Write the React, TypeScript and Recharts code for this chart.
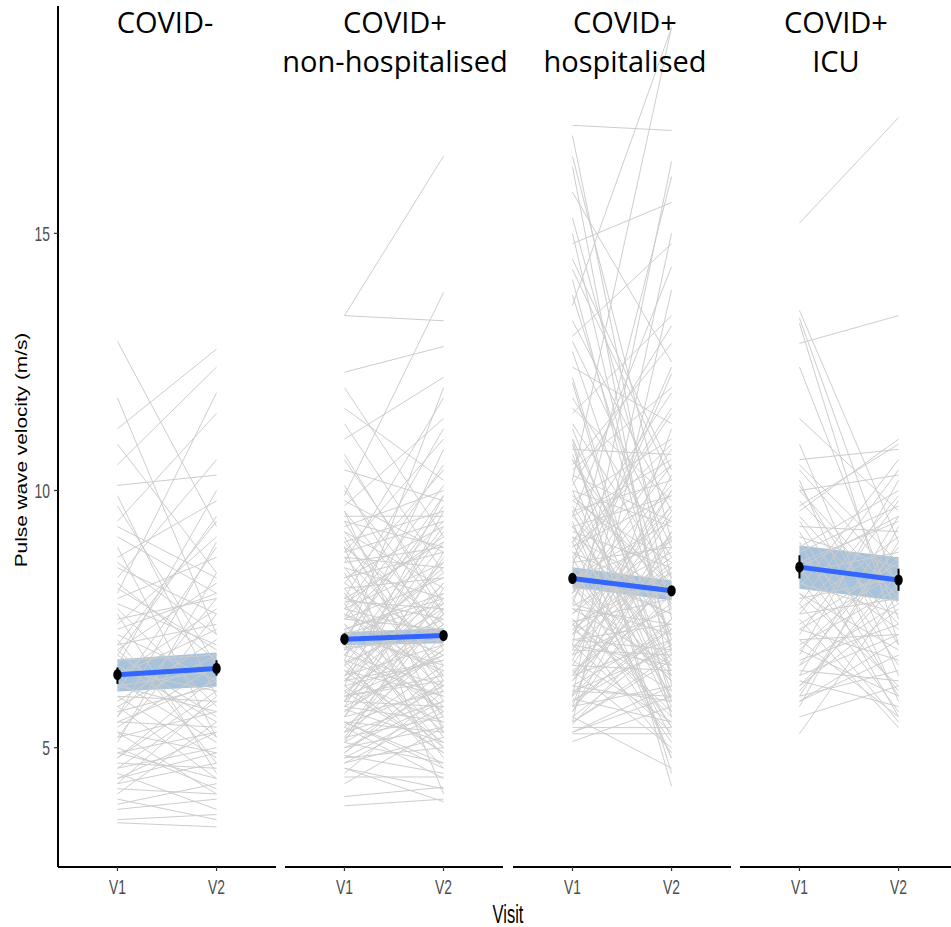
import { ComposedChart, Line, Area, Scatter, ErrorBar, XAxis, YAxis } from "recharts";

// per-subject pulse wave velocity (m/s) at visit 1 and visit 2
const negV1 = [12.9, 11.8, 11.2, 10.9, 10.5, 10.1, 9.7, 9.4, 9.1, 8.9, 8.7, 8.5, 8.3, 8.1, 7.9, 7.7, 7.5, 7.4, 7.2, 7.1, 7.0, 6.9, 6.8, 6.7, 6.6, 6.5, 6.4, 6.3, 6.2, 6.1, 6.0, 5.9, 5.8, 5.7, 5.6, 5.5, 5.4, 5.3, 5.2, 5.1, 5.0, 4.9, 4.8, 4.7, 4.6, 4.5, 4.4, 4.3, 4.2, 4.1, 4.0, 3.9, 3.8, 3.6, 3.54, 8.0, 6.8, 5.6, 9.9, 7.6,
  8.2, 7.3, 6.9, 6.4, 6.0, 5.5, 5.2, 4.9, 4.6, 4.3, 7.8, 7.0, 6.6, 5.8, 5.3, 4.8, 4.4, 9.3, 8.6, 6.2];
const negV2 = [9.3, 7.2, 12.75, 8.4, 12.4, 10.3, 6.6, 11.5, 8.0, 5.2, 9.8, 7.6, 10.6, 6.9, 8.7, 5.8, 7.9, 9.1, 6.3, 4.7, 7.4, 8.2, 5.6, 6.8, 10.0, 6.1, 7.7, 5.1, 6.5, 8.9, 5.9, 7.1, 4.4, 6.2, 7.9, 5.4, 6.6, 4.9, 5.7, 8.4, 4.2, 5.3, 6.4, 4.6, 5.0, 3.8, 4.9, 6.0, 4.1, 5.5, 3.6, 4.3, 4.0, 3.7, 3.46, 11.9, 9.5, 9.0, 6.0, 4.5,
  6.7, 8.0, 5.2, 7.3, 4.8, 6.3, 7.6, 4.4, 5.9, 4.7, 7.0, 9.4, 5.5, 6.8, 4.1, 6.1, 5.3, 8.3, 7.2, 5.7];

const nonHospV1 = [13.4, 13.4, 12.3, 12.0, 11.6, 11.3, 11.0, 10.7, 10.4, 10.1, 9.9, 9.8, 9.7, 9.6, 9.5, 9.4, 9.3, 9.2, 9.1, 9.0, 8.9, 8.8, 8.7, 8.6, 8.5, 8.4, 8.3, 8.2, 8.1, 8.0, 7.9, 7.85, 7.8, 7.7, 7.6, 7.55, 7.5, 7.4, 7.3, 7.25, 7.2, 7.1, 7.0, 6.95, 6.9, 6.8, 6.7, 6.65, 6.6, 6.5, 6.4, 6.35, 6.3, 6.2, 6.1, 6.05, 6.0, 5.9, 5.8, 5.75, 5.7, 5.6, 5.5, 5.45, 5.4, 5.3, 5.2, 5.15, 5.1, 5.0, 4.9, 4.85, 4.8, 4.7, 4.6, 4.5, 4.43, 4.3, 4.05, 3.87, 8.6, 7.7, 6.9, 6.2, 5.6, 9.0, 7.3, 6.7, 5.9, 8.0, 7.0, 6.4, 5.3, 10.6, 8.9, 7.5, 6.0, 5.1, 9.6, 4.6,
  9.2, 8.8, 8.5, 8.3, 8.1, 7.9, 7.8, 7.6, 7.5, 7.4, 7.3, 7.2, 7.1, 7.0, 6.9, 6.8, 6.7, 6.6, 6.5, 6.4, 6.3, 6.2, 6.1, 6.0, 5.9, 5.8, 5.7, 5.6, 5.5, 5.4, 5.3, 5.2, 5.0, 4.9, 4.7, 8.7, 8.2, 7.7, 7.2, 6.8, 6.3, 5.8, 5.5, 5.1, 9.4, 10.0, 6.6, 7.9, 4.8, 5.9];
const nonHospV2 = [16.5, 13.3, 12.8, 9.1, 10.2, 8.4, 12.2, 7.6, 9.8, 6.9, 13.85, 8.8, 11.4, 7.2, 9.5, 6.3, 10.0, 8.1, 5.9, 9.6, 7.4, 11.0, 6.6, 8.9, 7.9, 5.4, 9.3, 7.0, 8.3, 6.1, 9.0, 7.7, 5.2, 8.6, 6.8, 10.1, 7.3, 4.8, 8.0, 6.5, 7.8, 9.7, 5.7, 7.1, 8.5, 6.2, 4.6, 7.5, 9.2, 6.0, 7.0, 5.5, 8.2, 6.7, 4.9, 7.6, 6.4, 5.8, 8.7, 5.1, 6.9, 7.9, 5.3, 6.2, 4.4, 6.6, 5.6, 7.2, 4.7, 5.9, 6.3, 4.5, 5.0, 5.7, 4.2, 6.1, 4.43, 5.4, 4.23, 4.0, 11.8, 10.5, 12.0, 9.9, 8.8, 6.4, 5.0, 10.8, 7.4, 5.6, 8.4, 9.0, 7.7, 7.8, 4.1, 9.4, 6.8, 8.1, 5.3, 3.95,
  7.1, 9.4, 6.2, 8.8, 5.6, 7.5, 9.1, 6.4, 8.3, 5.8, 7.9, 6.6, 9.9, 5.3, 7.3, 8.6, 6.0, 7.7, 5.1, 8.0, 6.7, 4.9, 7.4, 6.3, 8.2, 5.5, 7.0, 6.1, 4.7, 6.9, 5.9, 7.6, 5.4, 6.5, 5.2, 8.5, 10.4, 7.2, 5.7, 9.3, 7.8, 6.8, 4.6, 6.2, 8.9, 7.6, 5.0, 11.2, 5.8, 9.6];

const hospV1 = [17.1, 16.9, 16.5, 16.3, 15.8, 15.3, 14.8, 14.5, 14.1, 13.6, 13.3, 13.0, 12.7, 12.4, 12.1, 11.8, 11.5, 11.2, 11.0, 10.8, 10.6, 10.4, 10.2, 10.2, 10.0, 9.9, 9.8, 9.7, 9.6, 9.5, 9.4, 9.3, 9.2, 9.1, 9.0, 8.9, 8.8, 8.7, 8.6, 8.5, 8.4, 8.3, 8.2, 8.1, 8.0, 7.9, 7.8, 7.75, 7.7, 7.6, 7.5, 7.45, 7.4, 7.3, 7.2, 7.1, 7.0, 6.95, 6.9, 6.8, 6.7, 6.6, 6.5, 6.45, 6.4, 6.3, 6.2, 6.1, 6.0, 5.95, 5.9, 5.8, 5.7, 5.6, 5.5, 5.45, 5.39, 5.3, 5.27, 5.12, 12.9, 11.6, 10.5, 9.0, 8.5, 7.0, 6.0, 5.5, 7.8, 9.5, 11.0, 8.0, 6.6, 7.4, 8.8, 6.3, 5.8, 10.9, 7.2, 9.3,
  10.6, 10.3, 10.0, 9.8, 9.5, 9.3, 9.1, 8.9, 8.7, 8.5, 8.3, 8.1, 7.9, 7.7, 7.5, 7.3, 7.1, 6.9, 6.7, 6.5, 6.3, 6.1, 5.9, 5.7, 5.5, 10.7, 9.9, 9.0, 8.2, 7.6, 7.0, 6.4, 5.8, 5.3, 11.3, 12.2, 13.8, 14.3, 15.0, 8.6, 7.4, 6.8, 6.2, 9.6, 8.0, 7.2, 6.0, 5.6, 10.1, 8.4];
const hospV2 = [17.0, 7.5, 9.0, 6.2, 12.5, 8.3, 15.6, 10.4, 6.9, 19.0, 9.6, 14.8, 7.1, 11.3, 5.6, 8.7, 13.4, 6.4, 4.25, 10.7, 7.8, 12.0, 19.0, 5.9, 9.3, 8.1, 11.0, 6.7, 10.2, 7.3, 4.8, 9.9, 8.5, 6.0, 4.8, 10.5, 7.0, 11.6, 8.9, 5.4, 7.6, 9.4, 6.3, 8.0, 10.1, 5.1, 7.2, 8.8, 6.6, 9.1, 5.7, 7.9, 8.4, 6.1, 9.7, 7.4, 5.3, 8.6, 6.8, 7.7, 10.3, 6.5, 5.0, 8.2, 7.1, 9.2, 5.9, 6.9, 8.0, 5.5, 7.3, 6.2, 8.5, 4.6, 6.8, 7.5, 5.39, 6.0, 5.27, 5.8, 8.9, 9.8, 12.86, 11.9, 16.1, 16.4, 15.0, 13.9, 12.27, 14.35, 7.0, 10.8, 9.5, 6.4, 7.9, 8.3, 11.2, 4.5, 10.0, 6.6,
  7.2, 9.4, 5.8, 8.6, 10.6, 6.5, 8.0, 9.9, 5.2, 7.6, 9.0, 6.3, 10.5, 7.4, 5.6, 8.7, 6.9, 9.6, 5.5, 7.8, 8.4, 6.0, 7.0, 9.2, 6.7, 6.1, 8.2, 10.9, 5.4, 9.7, 6.6, 8.9, 7.5, 6.2, 8.3, 5.9, 7.7, 10.2, 6.8, 11.5, 4.9, 10.0, 7.3, 5.7, 12.4, 8.5, 9.1, 7.1, 13.2, 6.4];

const icuV1 = [15.2, 13.5, 13.35, 13.25, 12.86, 12.4, 11.4, 10.9, 10.6, 10.4, 10.2, 10.0, 9.8, 9.6, 9.4, 9.3, 9.1, 9.0, 8.9, 8.7, 8.6, 8.5, 8.4, 8.2, 8.1, 8.0, 7.9, 7.8, 7.7, 7.6, 7.5, 7.4, 7.3, 7.2, 7.1, 7.0, 6.9, 6.8, 6.7, 6.6, 6.5, 6.4, 6.3, 6.2, 6.1, 6.0, 5.9, 5.8, 5.6, 5.27, 9.7, 8.3, 7.6, 6.9, 10.1,
  9.5, 8.8, 8.0, 7.3, 6.6, 6.0, 10.5, 9.2, 7.8, 7.1, 6.4, 5.9, 8.5, 10.0, 6.2];
const icuV2 = [17.25, 9.0, 8.0, 7.0, 13.4, 7.5, 9.6, 6.4, 10.8, 8.2, 5.9, 10.3, 7.8, 11.0, 6.6, 9.2, 8.5, 5.6, 10.0, 7.3, 9.4, 6.1, 8.8, 7.6, 10.6, 6.9, 8.3, 5.5, 9.1, 7.9, 5.39, 8.6, 6.7, 9.8, 7.2, 8.1, 6.0, 10.2, 7.4, 8.9, 6.3, 9.5, 5.8, 7.7, 8.4, 6.5, 7.1, 9.3, 6.2, 8.0, 10.9, 5.7, 9.9, 8.7, 7.0,
  7.4, 9.7, 6.2, 8.4, 7.8, 9.0, 8.6, 6.0, 10.4, 5.6, 7.2, 6.8, 9.5, 7.9, 8.2];

// group summaries: fitted mean, ribbon, error bars
const groupTitles = [["COVID-"], ["COVID+", "non-hospitalised"], ["COVID+", "hospitalised"], ["COVID+", "ICU"]];
const meanV1 = [6.42, 7.11, 8.29, 8.51];
const meanV2 = [6.54, 7.18, 8.05, 8.26];
const bandLoV1 = [6.09, 6.99, 8.12, 8.09];
const bandHiV1 = [6.72, 7.25, 8.51, 8.93];
const bandLoV2 = [6.19, 7.03, 7.86, 7.85];
const bandHiV2 = [6.85, 7.32, 8.25, 8.7];
const errLoV1 = [6.24, 7.0, 8.2, 8.29];
const errHiV1 = [6.56, 7.22, 8.38, 8.74];
const errLoV2 = [6.4, 7.08, 7.96, 8.05];
const errHiV2 = [6.7, 7.28, 8.14, 8.48];

const visits = [1, 2];
const yTicks = [5, 10, 15];

const v1Sets = [negV1, nonHospV1, hospV1, icuV1];
const v2Sets = [negV2, nonHospV2, hospV2, icuV2];

const panelLeft = [0, 285.3, 512.6, 739.9];
const panelWidth = [276, 218, 218, 218];
const titleX = [165, 395, 625, 836];

const AXIS_FONT = "'Liberation Sans', Arial, sans-serif";
const SQUISH = 0.66;

const XTick = (props: any) => {
  const { x, y, payload } = props;
  return (
    <g transform={`translate(${x},${y}) scale(${SQUISH},1)`}>
      <text textAnchor="middle" dy="0.71em" fill="#4d4d4d" fontSize={21} fontFamily={AXIS_FONT}>
        {`V${payload.value}`}
      </text>
    </g>
  );
};

const YTick = (props: any) => {
  const { x, y, payload } = props;
  return (
    <g transform={`translate(${x},${y}) scale(${SQUISH},1)`}>
      <text textAnchor="end" dy="0.355em" fill="#4d4d4d" fontSize={21} fontFamily={AXIS_FONT}>
        {payload.value}
      </text>
    </g>
  );
};

const Dot = (props: any) => <ellipse cx={props.cx} cy={props.cy} rx={4.2} ry={5.6} fill="#000" />;

const Panel = ({ idx }: { idx: number }) => {
  const v1 = v1Sets[idx];
  const v2 = v2Sets[idx];
  const rows = visits.map((visit) => {
    const row: any = {
      visit,
      band: visit === 1 ? [bandLoV1[idx], bandHiV1[idx]] : [bandLoV2[idx], bandHiV2[idx]],
      mean: visit === 1 ? meanV1[idx] : meanV2[idx],
    };
    v1.forEach((v, i) => {
      row["s" + i] = visit === 1 ? v : v2[i];
    });
    return row;
  });
  const dots = [
    { visit: 1, mean: meanV1[idx], err: [meanV1[idx] - errLoV1[idx], errHiV1[idx] - meanV1[idx]] },
    { visit: 2, mean: meanV2[idx], err: [meanV2[idx] - errLoV2[idx], errHiV2[idx] - meanV2[idx]] },
  ];
  const showY = idx === 0;

  return (
    <div style={{ position: "absolute", left: panelLeft[idx], top: 0 }}>
      <ComposedChart width={panelWidth[idx]} height={927} data={rows} margin={{ top: 6, right: 0, bottom: 0, left: 0 }}>
        <XAxis
          dataKey="visit"
          type="number"
          domain={[0.4, 2.6]}
          ticks={visits}
          allowDataOverflow
          height={60}
          axisLine={{ stroke: "#000", strokeWidth: 2 }}
          tickLine={{ stroke: "#333", strokeWidth: 1.2 }}
          tickSize={4}
          tickMargin={8}
          tick={<XTick />}
        />
        <YAxis
          type="number"
          domain={[2.68, 19.42]}
          ticks={yTicks}
          allowDataOverflow
          hide={!showY}
          width={58}
          axisLine={{ stroke: "#000", strokeWidth: 2 }}
          tickLine={{ stroke: "#333", strokeWidth: 1.2 }}
          tickSize={4}
          tickMargin={4}
          tick={<YTick />}
        />
        {v1.map((_, i) => (
          <Line
            key={i}
            dataKey={"s" + i}
            type="linear"
            stroke="#cdcdcd"
            strokeWidth={1}
            dot={false}
            activeDot={false}
            isAnimationActive={false}
          />
        ))}
        <Area dataKey="band" type="linear" fill="#4682b4" fillOpacity={0.48} stroke="none" isAnimationActive={false} />
        <Line dataKey="mean" type="linear" stroke="#3366ff" strokeWidth={5} dot={false} activeDot={false} isAnimationActive={false} />
        <Scatter data={dots} dataKey="mean" shape={<Dot />} isAnimationActive={false}>
          <ErrorBar dataKey="err" direction="y" stroke="#000" strokeWidth={2} width={0} />
        </Scatter>
      </ComposedChart>
    </div>
  );
};

const App = () => {
  return (
    <div style={{ position: "absolute", left: 0, top: 0, width: 951, height: 927, overflow: "hidden", background: "#fff" }}>
      {groupTitles.map((_, idx) => (
        <Panel key={idx} idx={idx} />
      ))}
      <svg width={951} height={927} style={{ position: "absolute", left: 0, top: 0, pointerEvents: "none" }}>
        {groupTitles.map((lines, idx) =>
          lines.map((t, j) => (
            <text
              key={idx + "-" + j}
              x={titleX[idx]}
              y={33 + j * 39}
              textAnchor="middle"
              fontSize={29}
              fontFamily="'Open Sans', sans-serif"
              fill="#000"
            >
              {t}
            </text>
          ))
        )}
        <g transform={`translate(508,923) scale(0.66,1)`}>
          <text textAnchor="middle" fontSize={25} fontFamily={AXIS_FONT} fill="#000">
            Visit
          </text>
        </g>
        <g transform={`translate(27,450) scale(0.75,1) rotate(-90)`}>
          <text textAnchor="middle" fontSize={20.8} fontFamily={AXIS_FONT} fill="#000">
            Pulse wave velocity (m/s)
          </text>
        </g>
      </svg>
    </div>
  );
};

export default App;
